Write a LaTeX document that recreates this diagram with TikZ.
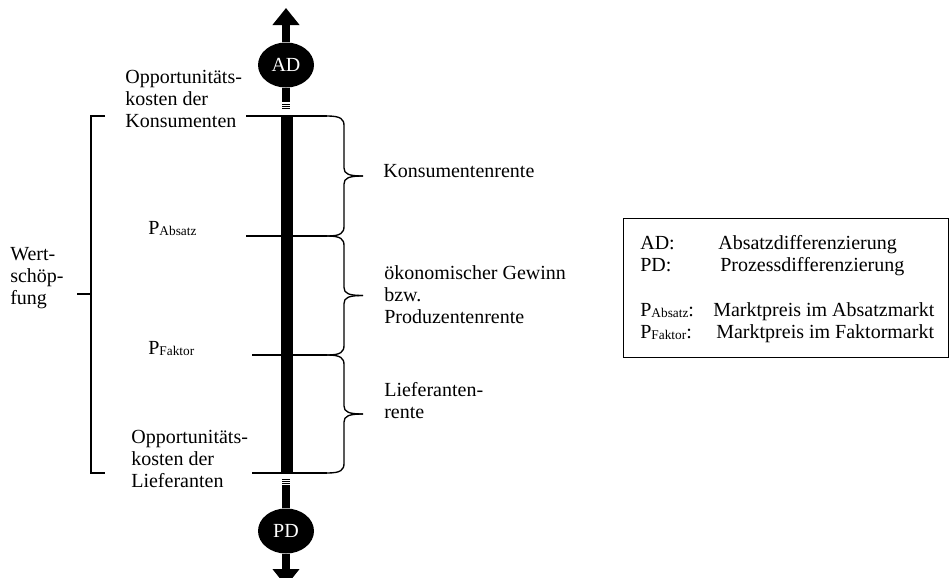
\documentclass[tikz,border=0pt]{standalone}
\usepackage{fontspec}
\setmainfont{Liberation Serif}
\usetikzlibrary{arrows.meta,shapes.geometric}

\newcommand{\Pidx}[1]{P\raisebox{-0.6pt}{\fontsize{8}{8}\selectfont #1}}

\tikzset{
  lbl/.style={anchor=base west, align=left, inner sep=0pt, font=\fontsize{12}{13.2}\selectfont},
  diffnode/.style={ellipse, fill=black, text=white, minimum width=33.6pt, minimum height=27pt, inner sep=0pt, font=\fontsize{12}{13.2}\selectfont},
  bigarrow/.style={line width=4.8pt, -{Triangle[width=15.6pt,length=10.2pt]}},
  stem/.style={line width=4.8pt},
  level/.style={line width=0.8pt},
}

\begin{document}
\begin{tikzpicture}[x=0.6pt, y=-0.6pt]
  \useasboundingbox (0,0) rectangle (950,578);

  % Achse mit AD und PD
  \fill (281,116) rectangle (293,473);
  \node[diffnode] (ad) at (286,65) {AD};
  \node[diffnode] (pd) at (286,531) {PD};
  \coordinate (adtip) at (286,8);
  \coordinate (pdtip) at (286,586);
  \coordinate (adend) at (286,102);
  \coordinate (pdend) at (286,485);
  \draw[bigarrow] (ad.north) -- (adtip);
  \draw[bigarrow] (pd.south) -- (pdtip);
  \draw[stem] (ad.south) -- (adend);
  \draw[stem] (pd.north) -- (pdend);
  \foreach \y in {104,106,108,479,481,483}
    \draw[line width=0.6pt] (282,\y) -- (290,\y);

  % Preisniveaus
  \foreach \y/\xs in {116/246, 236/246, 355/252, 473/252}
    \draw[level] (\xs,\y) -- (327,\y);

  % Klammern rechts
  \foreach \t/\b in {116/236, 236/355, 355/473} {
    \pgfmathsetmacro{\m}{(\t+\b)/2}
    \draw[level] (327,\t) .. controls (341,\t) and (344,\t+3) .. (344,\t+10)
      -- (344,\m-8) .. controls (344,\m-2) and (349,\m) .. (363,\m);
    \draw[level] (363,\m) .. controls (349,\m) and (344,\m+2) .. (344,\m+8)
      -- (344,\b-10) .. controls (344,\b-3) and (341,\b) .. (327,\b);
  }

  % Klammer Wertschoepfung
  \draw[level] (105,116) -- (91,116) -- (91,473) -- (105,473);
  \draw[level] (77,294) -- (91,294);

  % Beschriftung (base = letzte Zeile)
  \node[lbl] (wert) at (10,304) {Wert-\\schöp-\\fung};
  \node[lbl] (okons) at (125,127) {Opportunitäts-\\kosten der\\Konsumenten};
  \node[lbl] (pabs) at (148,234) {\Pidx{Absatz}};
  \node[lbl] (pfak) at (148,354) {\Pidx{Faktor}};
  \node[lbl] (olief) at (131,487) {Opportunitäts-\\kosten der\\Lieferanten};
  \node[lbl] (krente) at (383,177) {Konsumentenrente};
  \node[lbl] (gewinn) at (384,323) {ökonomischer Gewinn\\bzw.\\Produzentenrente};
  \node[lbl] (lrente) at (384,418) {Lieferanten-\\rente};

  % Legende
  \draw[line width=0.6pt] (623,218) rectangle (948,357);
  \foreach \k/\v/\xv/\y in {AD:/Absatzdifferenzierung/718/249,
                             PD:/Prozessdifferenzierung/720/271,
                             {\Pidx{Absatz}:}/Marktpreis im Absatzmarkt/713/316,
                             {\Pidx{Faktor}:}/Marktpreis im Faktormarkt/716/338} {
    \node[lbl] (key\y) at (640,\y) {\k};
    \node[lbl] (val\y) at (\xv,\y) {\v};
  }
\end{tikzpicture}
\end{document}
